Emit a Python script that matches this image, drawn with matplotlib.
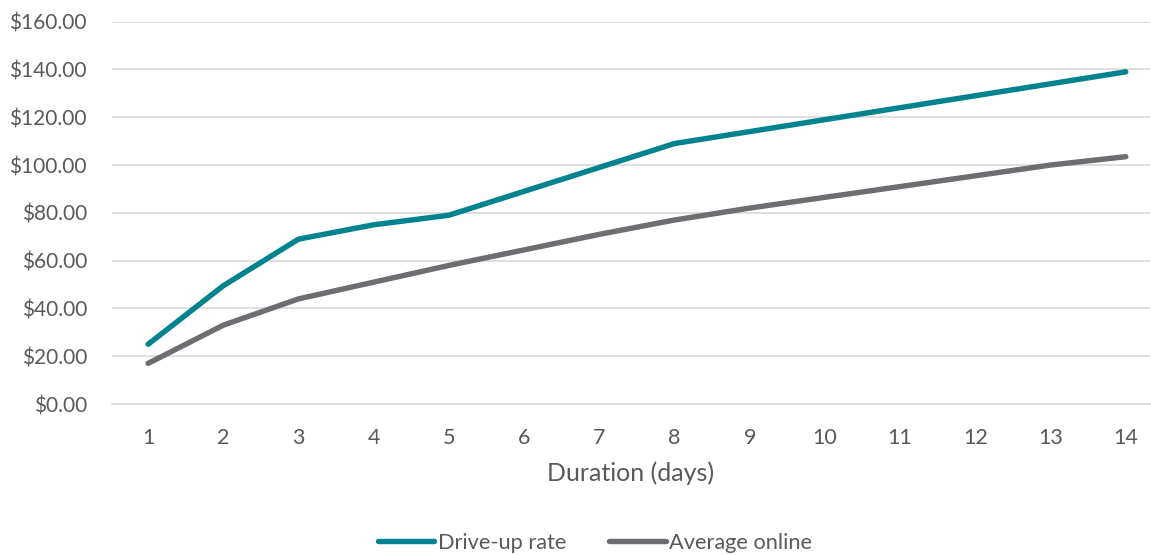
import matplotlib.pyplot as plt
from matplotlib.ticker import FuncFormatter, MultipleLocator

days = list(range(1, 15))
drive_up_rate = [25, 49.5, 69, 75, 79, 89, 99, 109, 114, 119, 124, 129, 134, 139]
average_online = [17, 33, 44, 51, 58, 64.5, 71, 77, 82, 86.5, 91, 95.5, 100, 103.5]

TEAL = "#00838F"
GREY = "#6D6E71"
TEXT = "#595959"
GRID = "#D9D9D9"

plt.rcParams["font.family"] = ["Lato", "DejaVu Sans"]

fig = plt.figure(figsize=(11.51, 5.55), dpi=100)
ax = fig.add_axes([0.0973, 0.272, 0.9017, 0.689])

ax.plot(days, drive_up_rate, color=TEAL, lw=3.9, solid_capstyle="round",
        solid_joinstyle="round", label="Drive-up rate")
ax.plot(days, average_online, color=GREY, lw=3.9, solid_capstyle="round",
        solid_joinstyle="round", label="Average online")

ax.set_xlim(0.52, 14.32)
ax.set_ylim(0, 160)
ax.set_xticks(days)
ax.yaxis.set_major_locator(MultipleLocator(20))
ax.yaxis.set_major_formatter(FuncFormatter(lambda v, _: f"${v:,.2f}"))

ax.grid(axis="y", color=GRID, lw=1.2)
ax.set_axisbelow(True)
for side in ("top", "right", "left"):
    ax.spines[side].set_visible(False)
ax.spines["bottom"].set_color(GRID)
ax.spines["bottom"].set_linewidth(1.2)

ax.tick_params(axis="both", length=0, labelsize=15.5, colors=TEXT)
ax.tick_params(axis="y", labelsize=15, pad=18)
ax.tick_params(axis="x", pad=17)

ax.set_xlabel("Duration (days)", fontsize=18, color=TEXT, labelpad=10)

fig.legend(loc="center", bbox_to_anchor=(595 / 1151, 1 - 543 / 555),
           ncol=2, frameon=False, fontsize=15.7, labelcolor=TEXT,
           handlelength=2.6, handletextpad=0.15, columnspacing=2.0)

fig.savefig("out.png", dpi=100)
